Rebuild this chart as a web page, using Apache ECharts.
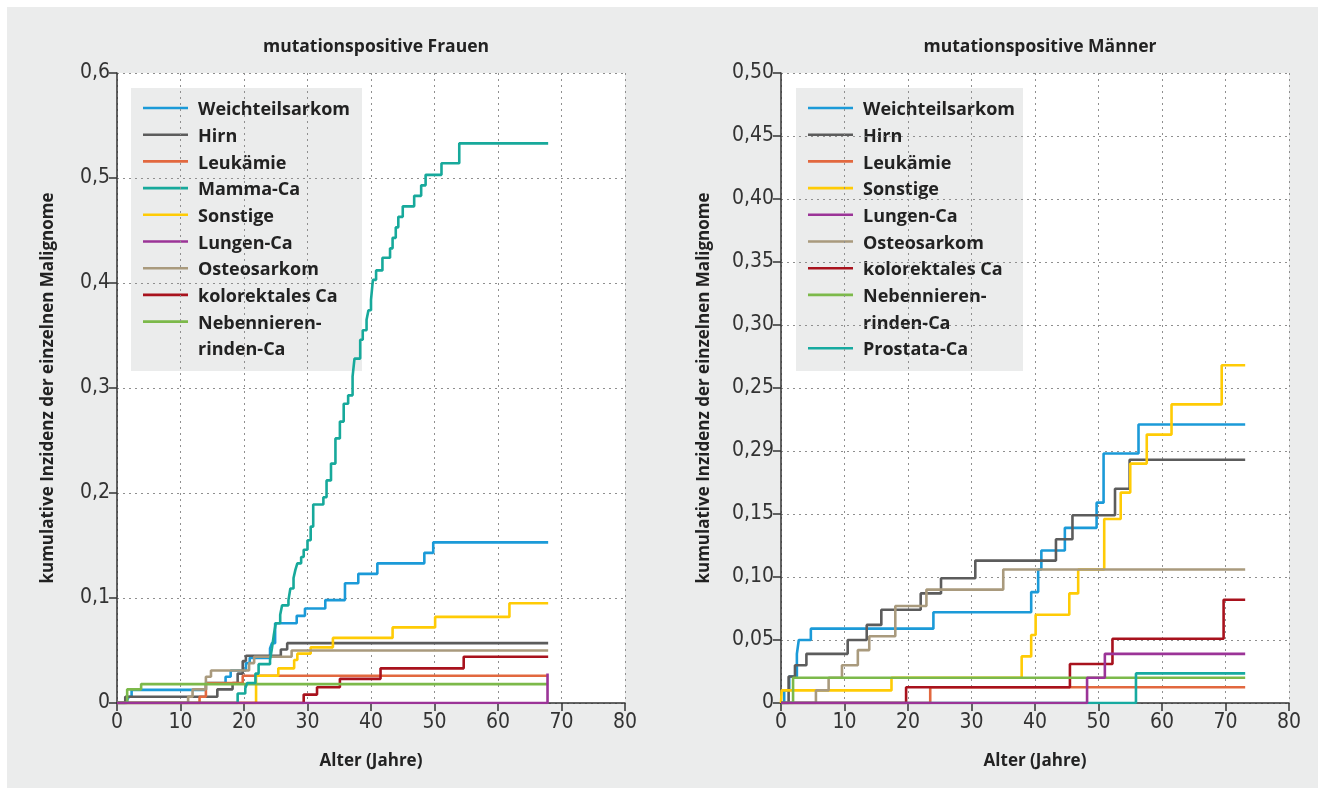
<!DOCTYPE html>
<html>
<head>
<meta charset="utf-8">
<script src="https://cdn.jsdelivr.net/npm/echarts@6/dist/echarts.min.js"></script>
<style>
html,body{margin:0;padding:0;background:#ffffff;}
#wrap{position:absolute;left:0;top:0;width:1325px;height:795px;background:#ffffff;}
#c{position:absolute;left:7px;top:7px;width:1311px;height:781px;}
</style>
</head>
<body>
<div id="wrap"><div id="c"></div></div>
<script>
// ---------- Titles / labels ----------
const titleFrauen = 'mutationspositive Frauen';
const titleMaenner = 'mutationspositive Männer';
const xAxisName = 'Alter (Jahre)';
const yAxisName = 'kumulative Inzidenz der einzelnen Malignome';
const leftYTickLabels = ['0', '0,1', '0,2', '0,3', '0,4', '0,5', '0,6'];
const rightYTickLabels = ['0', '0,05', '0,10', '0,15', '0,29', '0,25', '0,30', '0,35', '0,40', '0,45', '0,50'];

// ---------- Categories (legend order) ----------
const categoriesFrauen = ['Weichteilsarkom', 'Hirn', 'Leukämie', 'Mamma-Ca', 'Sonstige', 'Lungen-Ca', 'Osteosarkom', 'kolorektales Ca', 'Nebennieren-\nrinden-Ca'];
const categoriesMaenner = ['Weichteilsarkom', 'Hirn', 'Leukämie', 'Sonstige', 'Lungen-Ca', 'Osteosarkom', 'kolorektales Ca', 'Nebennieren-\nrinden-Ca', 'Prostata-Ca'];

// ---------- Data: [Alter, kumulative Inzidenz] (Sprungstellen) ----------
// Frauen
const frauenWeichteilsarkom = [[0,0],[1.6,0.003],[1.9,0.006],[2.3,0.0125],[14.0,0.019],[17.1,0.025],[17.9,0.031],[20.3,0.038],[20.9,0.043],[24.1,0.052],[24.4,0.057],[24.9,0.076],[28.3,0.083],[29.6,0.090],[32.8,0.098],[35.9,0.114],[38.0,0.123],[41.0,0.133],[48.4,0.143],[49.8,0.153],[67.9,0.153]];
const frauenHirn = [[0,0],[1.3,0.006],[15.8,0.013],[18.2,0.019],[19.0,0.028],[19.8,0.040],[20.3,0.045],[25.8,0.051],[26.8,0.057],[67.9,0.057]];
const frauenLeukaemie = [[0,0],[13.0,0.006],[14.0,0.019],[19.8,0.026],[67.9,0.026]];
const frauenMammaCa = [[0,0],[19.0,0.009],[20.2,0.014],[20.5,0.019],[21.8,0.028],[22.3,0.037],[24.1,0.041],[24.4,0.052],[24.7,0.065],[25.0,0.076],[25.7,0.084],[26.0,0.093],[27.0,0.098],[27.3,0.109],[27.8,0.119],[28.1,0.127],[28.4,0.133],[29.0,0.139],[29.4,0.146],[30.0,0.155],[30.5,0.168],[30.9,0.189],[32.5,0.196],[33.0,0.212],[33.7,0.228],[34.4,0.252],[35.1,0.268],[35.7,0.285],[36.4,0.293],[37.1,0.311],[37.4,0.328],[38.3,0.346],[38.7,0.355],[39.3,0.365],[39.6,0.374],[40.0,0.384],[40.3,0.403],[40.8,0.412],[41.8,0.424],[43.0,0.433],[43.4,0.443],[43.9,0.453],[44.3,0.463],[45.0,0.473],[46.8,0.483],[47.9,0.493],[48.6,0.503],[51.1,0.514],[53.9,0.533],[67.9,0.533]];
const frauenSonstige = [[0,0],[21.9,0.026],[25.4,0.033],[27.9,0.041],[28.4,0.047],[30.5,0.053],[34.0,0.062],[43.4,0.072],[50.1,0.082],[61.8,0.095],[67.9,0.095]];
const frauenLungenCa = [[0,0],[67.8,0.028]];
const frauenOsteosarkom = [[0,0],[11.2,0.006],[11.9,0.013],[14.0,0.025],[14.8,0.031],[20.8,0.038],[21.6,0.044],[27.5,0.050],[67.9,0.050]];
const frauenKolorektal = [[0,0],[29.4,0.008],[31.5,0.015],[35.1,0.023],[41.5,0.033],[54.6,0.044],[67.9,0.044]];
const frauenNebenniere = [[0,0],[1.6,0.013],[3.8,0.018],[67.9,0.018]];

// Männer
const maennerWeichteilsarkom = [[0,0],[0.5,0.010],[1.3,0.021],[2.5,0.039],[2.8,0.050],[4.7,0.059],[24.0,0.072],[39.4,0.088],[40.5,0.106],[41.0,0.121],[44.7,0.139],[49.7,0.159],[50.8,0.198],[56.3,0.221],[73.1,0.221]];
const maennerHirn = [[0,0],[1.2,0.021],[2.2,0.030],[4.0,0.039],[10.5,0.050],[13.5,0.062],[15.8,0.074],[22.0,0.087],[25.2,0.099],[30.6,0.113],[43.3,0.130],[45.9,0.149],[52.6,0.170],[54.9,0.193],[73.1,0.193]];
const maennerLeukaemie = [[0,0],[23.5,0.0125],[73.1,0.0125]];
const maennerSonstige = [[0,0],[0.1,0.010],[17.4,0.020],[37.9,0.037],[39.4,0.054],[40.1,0.070],[45.4,0.087],[46.8,0.106],[50.9,0.146],[53.5,0.167],[55.0,0.190],[57.6,0.213],[61.5,0.237],[69.4,0.268],[73.1,0.268]];
const maennerLungenCa = [[0,0],[48.2,0.020],[51.0,0.039],[73.1,0.039]];
const maennerOsteosarkom = [[0,0],[5.5,0.010],[7.5,0.020],[9.6,0.030],[12.1,0.042],[13.9,0.053],[18.0,0.077],[22.9,0.090],[35.0,0.106],[73.1,0.106]];
const maennerKolorektal = [[0,0],[19.7,0.0125],[45.5,0.031],[52.2,0.051],[69.7,0.082],[73.1,0.082]];
const maennerNebenniere = [[0,0],[1.9,0.020],[73.1,0.020]];
const maennerProstataCa = [[0,0],[55.9,0.0235],[73.1,0.0235]];

const frauenData = [frauenWeichteilsarkom, frauenHirn, frauenLeukaemie, frauenMammaCa, frauenSonstige, frauenLungenCa, frauenOsteosarkom, frauenKolorektal, frauenNebenniere];
const maennerData = [maennerWeichteilsarkom, maennerHirn, maennerLeukaemie, maennerSonstige, maennerLungenCa, maennerOsteosarkom, maennerKolorektal, maennerNebenniere, maennerProstataCa];

// ---------- Styles ----------
const colorMap = {
  'Weichteilsarkom': '#1b9ad8',
  'Hirn': '#5c5c5c',
  'Leukämie': '#e2683f',
  'Mamma-Ca': '#17a99b',
  'Sonstige': '#ffcb05',
  'Lungen-Ca': '#9b3497',
  'Osteosarkom': '#a99a7d',
  'kolorektales Ca': '#a8121d',
  'Nebennieren-\nrinden-Ca': '#7cb94a',
  'Prostata-Ca': '#17aaa0'
};
const zMap = {'Lungen-Ca': 6, 'Mamma-Ca': 4, 'Prostata-Ca': 3};

const OX = 7, OY = 7;               // offset of chart canvas in page
const PANEL = '#ebecec';
const TXT = '#222222';
const BOLD_FONT = "'Open Sans', 'Noto Sans', sans-serif";
const TICK_FONT = "'Liberation Sans Narrow', 'DejaVu Sans Condensed', 'Roboto Condensed', sans-serif";

const grids = [
  {left: 117 - OX, top: 73 - OY, width: 508, height: 630},
  {left: 781 - OX, top: 73 - OY, width: 508, height: 630}
];

function xAxisFor(i) {
  return {
    type: 'value', gridIndex: i, min: 0, max: 80, interval: 10,
    name: xAxisName, nameLocation: 'middle', nameGap: 50,
    nameTextStyle: {fontFamily: BOLD_FONT, fontWeight: 'bold', fontSize: 17, color: TXT},
    axisLine: {show: true, onZero: false, lineStyle: {color: '#333', width: 1.5}},
    axisTick: {show: true, inside: false, length: 8, lineStyle: {color: '#333', width: 1.5}},
    axisLabel: {fontFamily: TICK_FONT, fontSize: 21, color: '#333', margin: 9},
    splitLine: {show: true, lineStyle: {type: [2, 4], color: '#8f8f8f', width: 1}}
  };
}
function yAxisFor(i, max, interval, labels, gap) {
  return {
    type: 'value', gridIndex: i, min: 0, max: max, interval: interval,
    name: yAxisName, nameLocation: 'middle', nameGap: gap, nameRotate: 90,
    nameTextStyle: {fontFamily: BOLD_FONT, fontWeight: 'bold', fontSize: 17, color: TXT},
    axisLine: {show: true, onZero: false, lineStyle: {color: '#333', width: 1.5}},
    axisTick: {show: true, inside: false, length: 8, lineStyle: {color: '#333', width: 1.5}},
    axisLabel: {
      fontFamily: TICK_FONT, fontSize: 21, color: '#333', margin: 7,
      formatter: function (v) { return labels[Math.round(v / interval)]; }
    },
    splitLine: {show: true, lineStyle: {type: [2, 4], color: '#8f8f8f', width: 1}}
  };
}

const series = [];
function addSeries(names, datas, gi) {
  names.forEach(function (n, k) {
    series.push({
      type: 'line', name: n, data: datas[k], step: 'end',
      xAxisIndex: gi, yAxisIndex: gi, symbol: 'none', showSymbol: false,
      animation: false, silent: true, z: zMap[n] || 2,
      lineStyle: {color: colorMap[n], width: 2.6},
      itemStyle: {color: colorMap[n]}
    });
  });
}
addSeries(categoriesFrauen, frauenData, 0);
addSeries(categoriesMaenner, maennerData, 1);

// ---------- Legend boxes (graphic) ----------
function legendGraphic(names, box) {
  const children = [];
  children.push({type: 'rect', shape: {x: box.x - OX, y: box.y - OY, width: box.w, height: box.h}, style: {fill: PANEL}});
  let row = 0;
  const rowH = 26.7, firstY = 108;
  names.forEach(function (n) {
    const cy = firstY + row * rowH - OY;
    children.push({type: 'line', shape: {x1: box.x + 12 - OX, y1: cy, x2: box.x + 57 - OX, y2: cy},
      style: {stroke: colorMap[n], lineWidth: 2.6}});
    n.split('\n').forEach(function (line) {
      const ty = firstY + row * rowH - OY + 2;
      children.push({type: 'text', x: box.x + 67 - OX, y: ty,
        style: {text: line, fill: TXT, font: 'bold 18px ' + BOLD_FONT, verticalAlign: 'middle', align: 'left'}});
      row++;
    });
  });
  return {type: 'group', z: 100, children: children};
}

const option = {
  backgroundColor: PANEL,
  animation: false,
  title: [
    {text: titleFrauen, left: 371 - OX, top: 33 - OY, textAlign: 'center',
      textStyle: {fontFamily: BOLD_FONT, fontWeight: 'bold', fontSize: 17.5, color: TXT}},
    {text: titleMaenner, left: 1035 - OX, top: 33 - OY, textAlign: 'center',
      textStyle: {fontFamily: BOLD_FONT, fontWeight: 'bold', fontSize: 17.5, color: TXT}}
  ],
  grid: grids.map(function (g) {
    return {left: g.left, top: g.top, width: g.width, height: g.height, containLabel: false,
      show: true, backgroundColor: '#ffffff', borderWidth: 0};
  }),
  xAxis: [xAxisFor(0), xAxisFor(1)],
  yAxis: [
    yAxisFor(0, 0.6, 0.1, leftYTickLabels, 60),
    yAxisFor(1, 0.5, 0.05, rightYTickLabels, 68)
  ],
  tooltip: {show: false},
  series: series,
  graphic: [
    legendGraphic(categoriesFrauen, {x: 131, y: 88, w: 231, h: 283}),
    legendGraphic(categoriesMaenner, {x: 796, y: 88, w: 227, h: 283})
  ]
};

const chart = echarts.init(document.getElementById('c'), null, {renderer: 'canvas'});
chart.setOption(option);
</script>
</body>
</html>
